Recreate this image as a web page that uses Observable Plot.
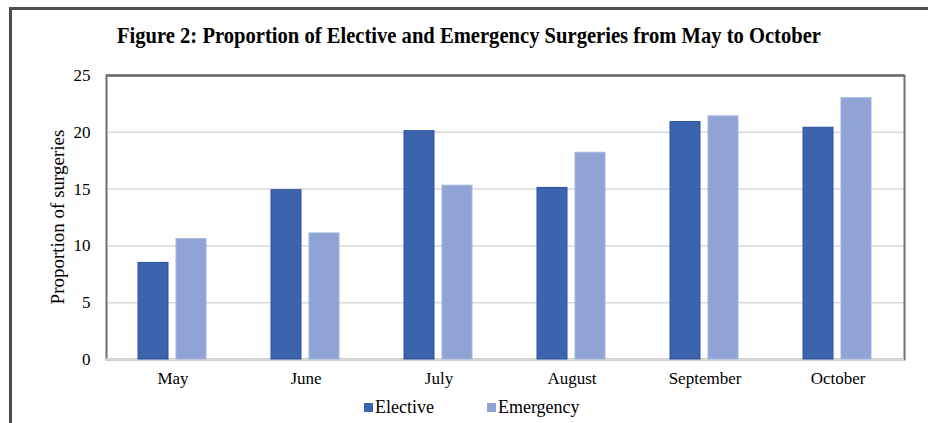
<!DOCTYPE html>
<html>
<head>
<meta charset="utf-8">
<script src="https://cdn.jsdelivr.net/npm/d3@7"></script>
<script src="https://cdn.jsdelivr.net/npm/@observablehq/plot@0.6"></script>
<style>
  html, body { margin: 0; padding: 0; background: #fff; }
  #page { position: relative; width: 928px; height: 423px; overflow: hidden; font-family: "Liberation Serif", "Times New Roman", serif; color: #000; }
  #border { position: absolute; left: 9px; top: 7px; width: 940px; height: 440px; border-left: 3px solid #4d4d4d; border-top: 3px solid #4d4d4d; }
  #title { position: absolute; left: 0; width: 938px; top: 24px; text-align: center; font-weight: bold; font-size: 20.6px; white-space: nowrap; transform: scaleY(1.1); }
  #chart { position: absolute; left: 0; top: 60px; }
  #ylabel { position: absolute; left: 58px; top: 217px; transform: translate(-50%, -50%) rotate(-90deg); font-size: 19px; white-space: nowrap; }
  #legend { position: absolute; top: 397px; left: 364px; font-size: 18px; display: flex; align-items: center; }
  .item { display: flex; align-items: center; }
  .sw { width: 9px; height: 9px; margin-right: 2px; }
</style>
</head>
<body>
<div id="page">
  <div id="border"></div>
  <div id="title">Figure 2: Proportion of Elective and Emergency Surgeries from May to October</div>
  <div id="chart"></div>
  <div id="ylabel">Proportion of surgeries</div>
  <div id="legend"></div>
</div>
<script>
const months = ["May", "June", "July", "August", "September", "October"];
const types = ["Elective", "Emergency"];
const elective = [8.5, 14.9, 20.1, 15.1, 20.9, 20.4];
const emergency = [10.6, 11.1, 15.3, 18.2, 21.4, 23.0];
const yTicks = [0, 5, 10, 15, 20, 25];
const colors = {Elective: "#3C64AE", Emergency: "#8FA4D4"};
const strokes = {Elective: "#2A519F", Emergency: "#A2B4DE"};

const electiveRows = months.map((m, i) => ({month: m, type: "Elective", value: elective[i]}));
const emergencyRows = months.map((m, i) => ({month: m, type: "Emergency", value: emergency[i]}));

const chart = Plot.plot({
  width: 928,
  height: 340,
  marginTop: 15,
  marginBottom: 41,
  marginLeft: 105,
  marginRight: 24,
  style: {fontFamily: "Liberation Serif, Times New Roman, serif", fontSize: "17px", color: "#000", background: "transparent"},
  fx: {domain: months, padding: 0, label: null, axis: "bottom", tickSize: 0, tickPadding: 12},
  x: {domain: types, paddingInner: 0.21, paddingOuter: 0.855, axis: null},
  y: {domain: [0, 25], ticks: yTicks, tickSize: 0, tickPadding: 16, label: null},
  marks: [
    Plot.gridY(yTicks.slice(1, -1), {stroke: "#d9d9d9", strokeOpacity: 1, strokeWidth: 1.5}),
    Plot.frame({facet: "super", stroke: "#6e6e6e", strokeWidth: 2}),
    Plot.ruleY([0], {stroke: "#d9d9d9", strokeWidth: 2.5}),
    Plot.barY(electiveRows, {fx: "month", x: "type", y: "value", fill: colors.Elective, stroke: strokes.Elective, strokeWidth: 1}),
    Plot.barY(emergencyRows, {fx: "month", x: "type", y: "value", fill: colors.Emergency, stroke: strokes.Emergency, strokeWidth: 1}),
    Plot.ruleY([25], {stroke: "#6e6e6e", strokeWidth: 2.5})
  ]
});
document.getElementById("chart").appendChild(chart);

const legend = document.getElementById("legend");
types.forEach((t, i) => {
  const item = document.createElement("div");
  item.className = "item";
  if (i > 0) item.style.marginLeft = "53px";
  const sw = document.createElement("div");
  sw.className = "sw";
  sw.style.background = colors[t];
  const label = document.createElement("span");
  label.textContent = t;
  item.appendChild(sw);
  item.appendChild(label);
  legend.appendChild(item);
});
</script>
</body>
</html>
